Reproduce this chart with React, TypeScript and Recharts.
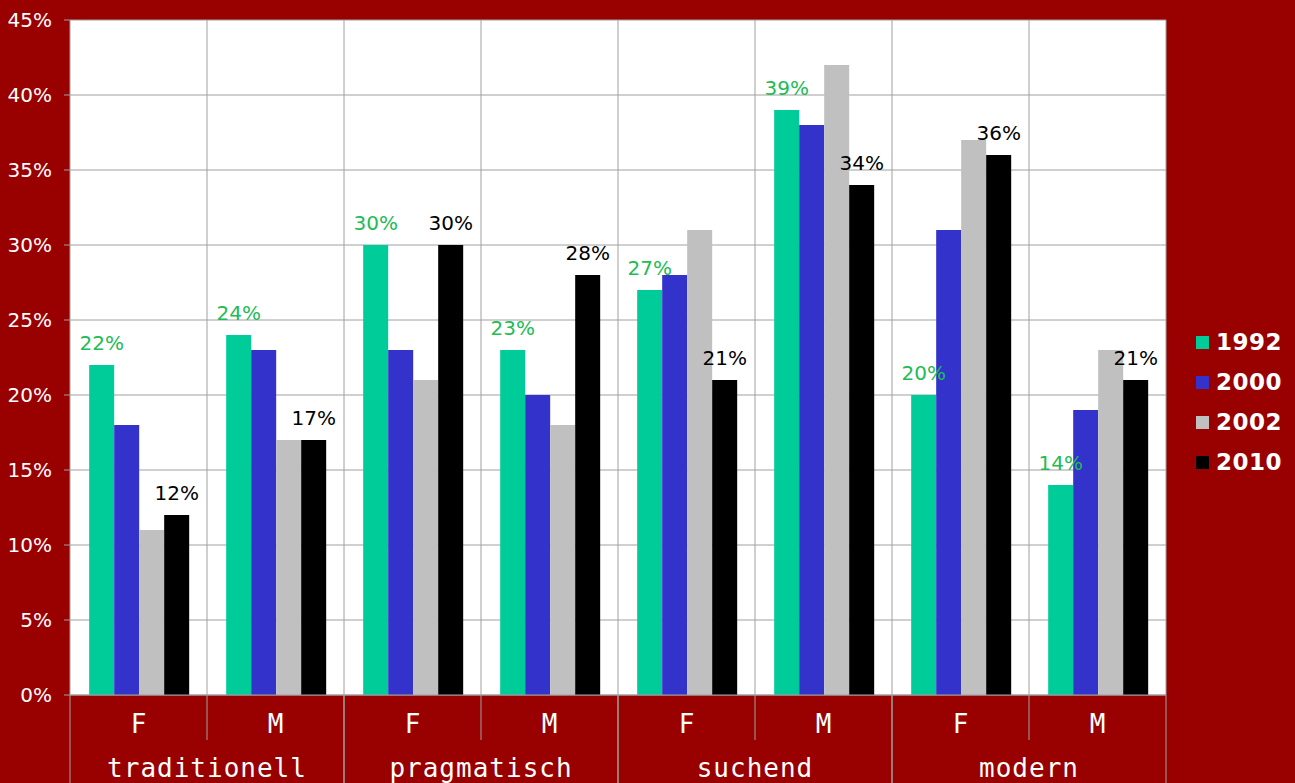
import {
  BarChart,
  Bar,
  XAxis,
  YAxis,
  CartesianGrid,
  LabelList,
} from "recharts";

const groups = ["traditionell", "pragmatisch", "suchend", "modern"];
const sexes = ["F", "M"];

const y1992 = [22, 24, 30, 23, 27, 39, 20, 14];
const y2000 = [18, 23, 23, 20, 28, 38, 31, 19];
const y2002 = [11, 17, 21, 18, 31, 42, 37, 23];
const y2010 = [12, 17, 30, 28, 21, 34, 36, 21];

const yTicks = [0, 5, 10, 15, 20, 25, 30, 35, 40, 45];

const series = [
  { key: "y1992", name: "1992", color: "#00cc99" },
  { key: "y2000", name: "2000", color: "#3333cc" },
  { key: "y2002", name: "2002", color: "#c0c0c0" },
  { key: "y2010", name: "2010", color: "#000000" },
];

const data = groups.flatMap((g, gi) =>
  sexes.map((s, si) => {
    const i = gi * 2 + si;
    return {
      cat: s,
      group: g,
      y1992: y1992[i],
      y2000: y2000[i],
      y2002: y2002[i],
      y2010: y2010[i],
    };
  })
);

const BG = "#990000";
const LINE = "#a0a0a0";
const MONO = "'DejaVu Sans Mono', monospace";
const SANS = "'DejaVu Sans', sans-serif";

const pct = (v: any) => `${v}%`;

const CategoryTick = (props: any) => {
  const { x, y, payload } = props;
  const half = payload?.offset ?? 68.5;
  const idx = payload?.index ?? 0;
  const row = data[idx];
  const isF = idx % 2 === 0;
  return (
    <g>
      <text
        x={x}
        y={y + 38}
        textAnchor="middle"
        fill="#fff"
        fontFamily={MONO}
        fontSize={26}
      >
        {row?.cat}
      </text>
      {isF && (
        <>
          <text
            x={x + half}
            y={y + 82}
            textAnchor="middle"
            fill="#fff"
            fontFamily={MONO}
            fontSize={26}
            letterSpacing={1}
          >
            {row?.group}
          </text>
          <line x1={x - half} x2={x - half} y1={y} y2={y + 100} stroke={LINE} />
          <line x1={x + half} x2={x + half} y1={y} y2={y + 45} stroke={LINE} />
        </>
      )}
      {!isF && (
        <line x1={x + half} x2={x + half} y1={y} y2={y + 100} stroke={LINE} />
      )}
    </g>
  );
};

function LegendBox() {
  return (
    <div style={{ position: "absolute", left: 1196, top: 322 }}>
      {series.map((s) => (
        <div
          key={s.key}
          style={{
            display: "flex",
            alignItems: "center",
            height: 40,
            color: "#fff",
            fontFamily: SANS,
            fontWeight: "bold",
            fontSize: 23,
            letterSpacing: 0.5,
          }}
        >
          <span
            style={{
              display: "inline-block",
              width: 13,
              height: 13,
              background: s.color,
              marginRight: 7,
            }}
          />
          {s.name}
        </div>
      ))}
    </div>
  );
}

export default function App() {
  return (
    <div
      style={{
        position: "fixed",
        left: 0,
        top: 0,
        width: 1295,
        height: 783,
        background: BG,
        overflow: "hidden",
      }}
    >
      <BarChart
        width={1295}
        height={783}
        data={data}
        margin={{ top: 20, right: 129, left: 0, bottom: 0 }}
        barCategoryGap="14%"
        barGap={0}
      >
        <CartesianGrid
          fill="#ffffff"
          stroke={LINE}
          verticalCoordinatesGenerator={({ offset }: any) =>
            data.map((_, i) => offset.left + ((i + 1) * offset.width) / data.length)
          }
        />
        <XAxis
          dataKey="cat"
          interval={0}
          height={88}
          tickLine={false}
          tickSize={0}
          tickMargin={0}
          axisLine={{ stroke: LINE }}
          tick={<CategoryTick />}
        />
        <YAxis
          width={70}
          domain={[0, 45]}
          ticks={yTicks}
          tickFormatter={pct}
          tickSize={6}
          tickMargin={12}
          axisLine={{ stroke: LINE }}
          tickLine={{ stroke: LINE }}
          tick={{ fill: "#fff", fontSize: 20, fontFamily: SANS }}
        />
        {series.map((s) => (
          <Bar
            key={s.key}
            dataKey={s.key}
            name={s.name}
            fill={s.color}
            isAnimationActive={false}
          >
            {s.key === "y1992" && (
              <LabelList
                dataKey={s.key}
                position="top"
                offset={15}
                formatter={pct}
                fill="#22bb55"
                fontSize={20}
                fontFamily={SANS}
              />
            )}
            {s.key === "y2010" && (
              <LabelList
                dataKey={s.key}
                position="top"
                offset={15}
                formatter={pct}
                fill="#000"
                fontSize={20}
                fontFamily={SANS}
              />
            )}
          </Bar>
        ))}
      </BarChart>
      <LegendBox />
    </div>
  );
}
